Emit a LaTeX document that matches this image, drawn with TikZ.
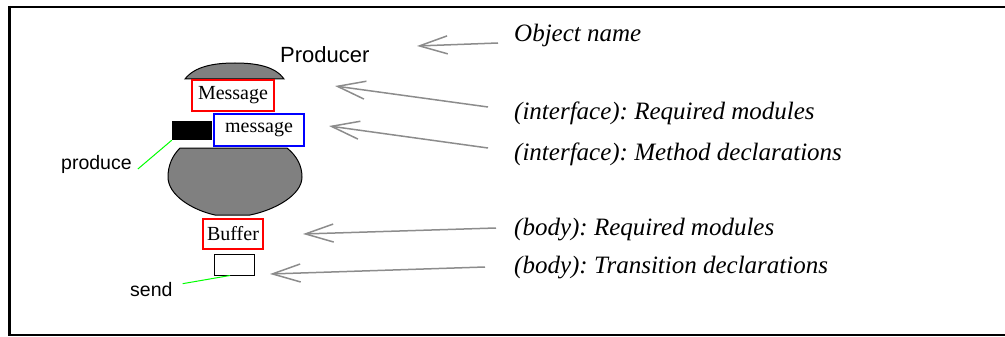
\documentclass[tikz,border=0pt]{standalone}
\usepackage{fontspec}
\setmainfont{Liberation Serif}
\setsansfont{Liberation Sans}
\usetikzlibrary{arrows.meta,positioning,calc}
\frenchspacing

\begin{document}
\begin{tikzpicture}[
    x=1pt, y=-1pt,
    slot/.style={rectangle, draw, line width=1.2pt, inner sep=0pt, font=\fontsize{20}{22}\selectfont},
    port/.style={rectangle, draw, line width=1pt, inner sep=0pt, minimum width=40pt},
    shade/.style={draw, line width=1pt, fill=black!50},
    tag/.style={inner sep=0pt, anchor=base west, font=\sffamily\fontsize{19.5}{22}\selectfont},
    note/.style={inner sep=0pt, anchor=base west, font=\itshape\fontsize{25}{28}\selectfont},
    wire/.style={green, line width=1pt},
    pointer/.style={-{Straight Barb[length=28pt,width=18pt]}, draw=black!45, line width=1.5pt}
]
\useasboundingbox (0,0) rectangle (1005,337);
% open frame
\draw[line width=2pt] (1005,7) -- (9.5,7);
\draw[line width=3.5pt] (9.5,6) -- (9.5,336);
\draw[line width=2pt] (9.5,335) -- (1005,335);

% the object
\node[tag, font=\sffamily\fontsize{22}{24}\selectfont] (producer) at (280,63) {Producer};
\draw[shade] (185,79) .. controls (195,66) and (215,63) .. (235,63)
    .. controls (255,63) and (275,66) .. (284,79) -- cycle;
\node[slot, draw=red, minimum width=82pt, minimum height=31pt] (reqmsg) at (233,95.5) {Message};
\node[slot, draw=blue, minimum width=90pt, minimum height=32pt] (meth) at (259,130) {message};
\node[rectangle, fill=black, inner sep=0pt, minimum width=40pt, minimum height=19pt] (prod) at (192,130.5) {};
\draw[shade] (180,148) -- (287,148) .. controls (297,156) and (302,166) .. (302,177)
    .. controls (302,195) and (275,210) .. (250,215) -- (215,215)
    .. controls (192,210) and (168,195) .. (168,177)
    .. controls (168,166) and (172,156) .. (180,148) -- cycle;
\node[slot, draw=red, minimum width=60pt, minimum height=30pt] (buffer) at (233,234) {Buffer};
\node[port, fill=white, minimum height=21pt] (sendbox) at (234,264.5) {};

\node[tag] (produce) at (61,169) {produce};
\node[tag] (send) at (130,296) {send};
\draw[wire] ([xshift=6pt]produce.base east) -- (prod.south west);
\draw[wire] ([shift={(10pt,-2pt)}]send.north east) -- ([xshift=-4pt]sendbox.south);

% legend
\node[note] (lblname) at (514,42) {Object name};
\node[note] (lblireq) at (514,119) {(interface): Required modules};
\node[note] (lblimeth) at (514,160) {(interface): Method declarations};
\node[note] (lblbreq) at (514,235) {(body): Required modules};
\node[note] (lblbtrans) at (514,273) {(body): Transition declarations};

\coordinate (tipname) at (417,46);
\coordinate (tipireq) at (335,86);
\coordinate (tipimeth) at (329,126);
\coordinate (tipbreq) at (303,234);
\coordinate (tipbtrans) at (270,274);

\draw[pointer] ([shift={(-16pt,-1pt)}]lblname.base west) -- (tipname);
\draw[pointer] ([shift={(-26pt,12pt)}]lblireq.base west) -- (tipireq);
\draw[pointer] ([shift={(-26pt,12pt)}]lblimeth.base west) -- (tipimeth);
\draw[pointer] ([shift={(-18pt,7pt)}]lblbreq.base west) -- (tipbreq);
\draw[pointer] ([shift={(-29pt,6pt)}]lblbtrans.base west) -- (tipbtrans);
\end{tikzpicture}
\end{document}
